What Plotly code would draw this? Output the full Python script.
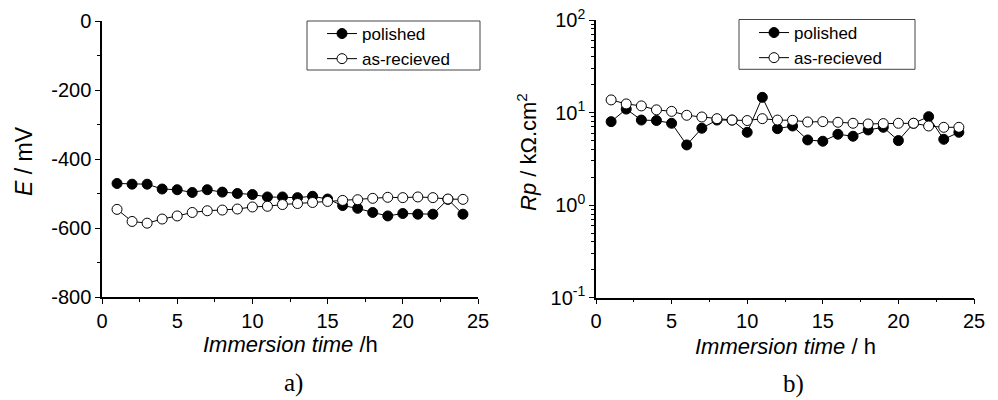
import plotly.graph_objects as go

hours = list(range(1, 25))
E_polished = [-471, -473, -473, -487, -489, -497, -489, -496, -500, -503, -510, -510,
              -512, -508, -516, -535, -543, -555, -565, -558, -560, -560, -517, -560]
E_asrec = [-546, -581, -586, -574, -565, -555, -550, -548, -545, -539, -537, -532,
           -529, -526, -523, -520, -518, -514, -511, -512, -510, -512, -516, -517]
Rp_polished = [7.98, 10.9, 8.3, 8.2, 7.66, 4.47, 6.77, 8.3, 8.3, 6.12, 14.6, 6.7,
               7.16, 5.06, 4.90, 5.83, 5.55, 6.49, 6.93, 4.98, 7.66, 9.03, 5.14, 6.12]
Rp_asrec = [13.7, 12.4, 11.8, 10.7, 10.3, 9.35, 8.96, 8.59, 8.3, 8.2, 8.59, 8.3,
            8.25, 7.91, 7.98, 7.85, 7.66, 7.53, 7.6, 7.66, 7.66, 7.16, 6.93, 6.93]

series_names = ["polished", "as-recieved"]
E_ticks = [0, -200, -400, -600, -800]
E_ticktext = ["0", "-200", "-400", "-600", "-800"]
log_ticks = [0.1, 1, 10, 100]
log_ticktext = ["10<sup>-1</sup>", "10<sup>0</sup>", "10<sup>1</sup>", "10<sup>2</sup>"]
log_minor = [m * d for d in [0.1, 1, 10] for m in range(2, 10)]

FONT = "Liberation Sans, Arial, sans-serif"
SERIF = "Liberation Serif, Times New Roman, serif"

filled = dict(symbol="circle", size=10, color="black", line=dict(color="black", width=1))
hollow = dict(symbol="circle", size=10, color="white", line=dict(color="black", width=1))
line = dict(color="black", width=1)

fig = go.Figure()
fig.add_trace(go.Scatter(x=hours, y=E_polished, mode="lines+markers", name=series_names[0],
                         marker=filled, line=line, xaxis="x", yaxis="y", legend="legend"))
fig.add_trace(go.Scatter(x=hours, y=E_asrec, mode="lines+markers", name=series_names[1],
                         marker=hollow, line=line, xaxis="x", yaxis="y", legend="legend"))
fig.add_trace(go.Scatter(x=hours, y=Rp_polished, mode="lines+markers", name=series_names[0],
                         marker=filled, line=line, xaxis="x2", yaxis="y2", legend="legend2"))
fig.add_trace(go.Scatter(x=hours, y=Rp_asrec, mode="lines+markers", name=series_names[1],
                         marker=hollow, line=line, xaxis="x2", yaxis="y2", legend="legend2"))

W, H = 998, 400
def px_x(p):
    return p / W
def px_y(p):
    return 1 - p / H

axis_common = dict(showline=True, linecolor="black", linewidth=1.5, ticks="outside",
                   ticklen=5, tickwidth=1.2, tickcolor="black", showgrid=False,
                   zeroline=False, mirror=False, automargin=False,
                   tickfont=dict(family=FONT, size=20, color="black"))

legend_common = dict(xanchor="left", yanchor="top", borderwidth=0,
                     bgcolor="rgba(0,0,0,0)", tracegroupgap=0,
                     font=dict(family=FONT, size=17, color="black"))

fig.update_layout(
    template="none",
    width=W, height=H, margin=dict(l=0, r=0, t=0, b=0, pad=0, autoexpand=False),
    paper_bgcolor="white", plot_bgcolor="white",
    showlegend=True,
    xaxis=dict(domain=[px_x(102), px_x(478)], anchor="y", range=[0, 25], dtick=5, tick0=0,
               minor=dict(ticks="outside", dtick=2.5, tick0=0, ticklen=3, tickcolor="black"),
               **axis_common),
    yaxis=dict(domain=[px_y(297), px_y(21)], anchor="x", range=[-800, 0],
               tickmode="array", tickvals=E_ticks, ticktext=E_ticktext,
               minor=dict(ticks="outside", dtick=100, tick0=0, ticklen=3, tickcolor="black"),
               **axis_common),
    xaxis2=dict(domain=[px_x(596), px_x(974)], anchor="y2", range=[0, 25], dtick=5, tick0=0,
                minor=dict(ticks="outside", dtick=2.5, tick0=0, ticklen=3, tickcolor="black"),
                **axis_common),
    yaxis2=dict(domain=[px_y(297.7), px_y(20)], anchor="x2", type="log", range=[-1, 2],
                tickmode="array", tickvals=log_ticks, ticktext=log_ticktext,
                minor=dict(ticks="outside", tickmode="array", tickvals=log_minor,
                           ticklen=3, tickcolor="black"),
                **axis_common),
    legend=dict(x=px_x(322), y=px_y(16), **legend_common),
    legend2=dict(x=px_x(754), y=px_y(15), **legend_common),
)

# legend frames
fig.add_shape(type="rect", xref="paper", yref="paper",
              x0=px_x(307), x1=px_x(480), y0=px_y(70), y1=px_y(21),
              line=dict(color="#444", width=1), fillcolor="rgba(0,0,0,0)", layer="above")
fig.add_shape(type="rect", xref="paper", yref="paper",
              x0=px_x(739), x1=px_x(915), y0=px_y(69.3), y1=px_y(19.5),
              line=dict(color="#444", width=1), fillcolor="rgba(0,0,0,0)", layer="above")

annotations = [
    dict(text="<i>Immersion time</i> /h", x=px_x(290), y=px_y(344), xref="paper", yref="paper",
         showarrow=False, xanchor="center", yanchor="middle",
         font=dict(family=FONT, size=22, color="black")),
    dict(text="<i>Immersion time</i> / h", x=px_x(785), y=px_y(346), xref="paper", yref="paper",
         showarrow=False, xanchor="center", yanchor="middle",
         font=dict(family=FONT, size=22, color="black")),
    dict(text="<i>E</i> / mV", x=px_x(24), y=px_y(161), xref="paper", yref="paper",
         showarrow=False, xanchor="center", yanchor="middle", textangle=-90,
         font=dict(family=FONT, size=23, color="black")),
    dict(text="<i>Rp</i> / kΩ.cm<sup>2</sup>", x=px_x(527), y=px_y(152), xref="paper", yref="paper",
         showarrow=False, xanchor="center", yanchor="middle", textangle=-90,
         font=dict(family=FONT, size=22, color="black")),
    dict(text="a)", x=px_x(293), y=px_y(383), xref="paper", yref="paper",
         showarrow=False, xanchor="center", yanchor="middle",
         font=dict(family=SERIF, size=25, color="black")),
    dict(text="b)", x=px_x(793), y=px_y(384), xref="paper", yref="paper",
         showarrow=False, xanchor="center", yanchor="middle",
         font=dict(family=SERIF, size=25, color="black")),
]
fig.update_layout(annotations=annotations)

fig.write_html("out.html")
